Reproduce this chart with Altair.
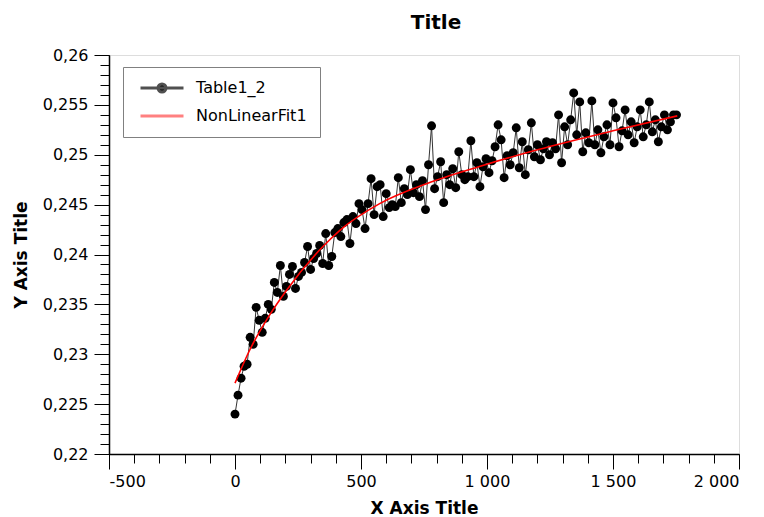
import altair as alt
import pandas as pd

# ---------------- data ----------------
x_data = [0, 12, 24, 36, 48, 60, 72, 84, 96, 108,
          120, 132, 144, 156, 168, 180, 192, 204, 216, 228,
          240, 252, 264, 276, 288, 300, 312, 324, 336, 348,
          360, 372, 384, 396, 408, 420, 432, 444, 456, 468,
          480, 492, 504, 516, 528, 540, 552, 564, 576, 588,
          600, 612, 624, 636, 648, 660, 672, 684, 696, 708,
          720, 732, 744, 756, 768, 780, 792, 804, 816, 828,
          840, 852, 864, 876, 888, 900, 912, 924, 936, 948,
          960, 972, 984, 996, 1008, 1020, 1032, 1044, 1056, 1068,
          1080, 1092, 1104, 1116, 1128, 1140, 1152, 1164, 1176, 1188,
          1200, 1212, 1224, 1236, 1248, 1260, 1272, 1284, 1296, 1308,
          1320, 1332, 1344, 1356, 1368, 1380, 1392, 1404, 1416, 1428,
          1440, 1452, 1464, 1476, 1488, 1500, 1512, 1524, 1536, 1548,
          1560, 1572, 1584, 1596, 1608, 1620, 1632, 1644, 1656, 1668,
          1680, 1692, 1704, 1716, 1728, 1740, 1752]

y_data = [0.2240, 0.2259, 0.2276, 0.2288, 0.2290, 0.2317, 0.2310, 0.2347, 0.2334, 0.2322,
          0.2336, 0.2350, 0.2345, 0.2372, 0.2362, 0.2389, 0.2358, 0.2368, 0.2380, 0.2388,
          0.2366, 0.2378, 0.2382, 0.2392, 0.2408, 0.2385, 0.2396, 0.2401, 0.2409, 0.2391,
          0.2421, 0.2389, 0.2398, 0.2422, 0.2426, 0.2418, 0.2432, 0.2435, 0.2411, 0.2438,
          0.2431, 0.2451, 0.2445, 0.2426, 0.2451, 0.2476, 0.2440, 0.2468, 0.2470, 0.2438,
          0.2461, 0.2447, 0.2450, 0.2448, 0.2477, 0.2452, 0.2466, 0.2460, 0.2485, 0.2462,
          0.2470, 0.2458, 0.2474, 0.2445, 0.2490, 0.2529, 0.2466, 0.2478, 0.2493, 0.2452,
          0.2480, 0.2470, 0.2486, 0.2467, 0.2503, 0.2480, 0.2475, 0.2478, 0.2514, 0.2478,
          0.2492, 0.2468, 0.2488, 0.2496, 0.2482, 0.2494, 0.2508, 0.2530, 0.2515, 0.2477,
          0.2499, 0.2490, 0.2502, 0.2527, 0.2487, 0.2513, 0.2480, 0.2505, 0.2532, 0.2498,
          0.2510, 0.2495, 0.2506, 0.2513, 0.2500, 0.2512, 0.2506, 0.2540, 0.2492, 0.2528,
          0.2510, 0.2535, 0.2562, 0.2520, 0.2553, 0.2503, 0.2522, 0.2512, 0.2554, 0.2510,
          0.2525, 0.2502, 0.2518, 0.2530, 0.2510, 0.2552, 0.2537, 0.2508, 0.2524, 0.2545,
          0.2520, 0.2533, 0.2512, 0.2528, 0.2545, 0.2518, 0.2530, 0.2553, 0.2523, 0.2535,
          0.2513, 0.2528, 0.2540, 0.2525, 0.2533, 0.2540, 0.2540]

fit_x = [0, 58, 139, 204, 349, 415, 574, 760, 967, 1200, 1500, 1755]
fit_y = [0.2271, 0.2304, 0.2340, 0.2364, 0.2408, 0.2424, 0.2451, 0.2471, 0.2488,
         0.2505, 0.2524, 0.2539]

series_names = ["Table1_2", "NonLinearFit1"]

x_major = [-500, 0, 500, 1000, 1500, 2000]
x_minor = [-500, -400, -300, -200, -100, 0, 100, 200, 300, 400, 500, 600, 700,
           800, 900, 1000, 1100, 1200, 1300, 1400, 1500, 1600, 1700, 1800, 1900, 2000]
y_major = [0.22, 0.225, 0.23, 0.235, 0.24, 0.245, 0.25, 0.255, 0.26]
y_minor = [0.220, 0.221, 0.222, 0.223, 0.224, 0.225, 0.226, 0.227, 0.228, 0.229,
           0.230, 0.231, 0.232, 0.233, 0.234, 0.235, 0.236, 0.237, 0.238, 0.239,
           0.240, 0.241, 0.242, 0.243, 0.244, 0.245, 0.246, 0.247, 0.248, 0.249,
           0.250, 0.251, 0.252, 0.253, 0.254, 0.255, 0.256, 0.257, 0.258, 0.259,
           0.260]

data = pd.DataFrame({"x": x_data, "y": y_data, "series": series_names[0]})
fit = pd.DataFrame({"x": fit_x, "y": fit_y, "series": series_names[1]})

FONT = "DejaVu Sans"

xscale = alt.Scale(domain=[-500, 2000], nice=False, zero=False)
yscale = alt.Scale(domain=[0.22, 0.26], nice=False, zero=False)

x_major_axis = alt.Axis(
    orient="bottom", values=x_major, grid=False,
    tickSize=15, tickColor="black", tickWidth=1,
    domainColor="black", domainWidth=1.5,
    labelFont=FONT, labelFontSize=16, labelColor="black", labelPadding=4,
    labelExpr="replace(replace(format(datum.value, ','), ',', ' '), '\u2212', '-')",
    title="X Axis Title", titleFont=FONT, titleFontSize=17, titleFontWeight="bold",
    titleColor="black", titlePadding=11,
)
x_minor_axis = alt.Axis(
    orient="bottom", values=x_minor, grid=False, tickSize=9, tickColor="black",
    tickWidth=1, labels=False, domain=False, title=None,
)
y_major_axis = alt.Axis(
    orient="left", values=y_major, grid=False,
    tickSize=15, tickColor="black", tickWidth=1,
    domainColor="black", domainWidth=1.5,
    labelFont=FONT, labelFontSize=16, labelColor="black", labelPadding=6,
    labelExpr="replace(format(datum.value, '.3~f'), '.', ',')",
    title="Y Axis Title", titleFont=FONT, titleFontSize=17, titleFontWeight="bold",
    titleColor="black", titlePadding=12,
)
y_minor_axis = alt.Axis(
    orient="left", values=y_minor, grid=False, tickSize=9, tickColor="black",
    tickWidth=1, labels=False, domain=False, title=None,
)

# legend symbols: a line with a dot for the data, a plain line for the fit
P1 = "M-4.3,0L4.3,0M-0.8,0A0.8,0.8 0 1,1 0.8,0A0.8,0.8 0 1,1 -0.8,0Z"
P2 = "M-4.3,0L4.3,0"

legend = alt.Legend(
    title=None, orient="none", legendX=14, legendY=12,
    fillColor="white", strokeColor="#808080",
    padding=13, symbolSize=100, symbolOffset=18, labelOffset=26,
    symbolStrokeWidth=3, symbolOpacity=1,
    labelFont=FONT, labelFontSize=16, labelColor="black", rowPadding=10,
)

line = alt.Chart(data).mark_line(strokeWidth=1, color="#333333").encode(
    x=alt.X("x:Q", scale=xscale, axis=x_major_axis),
    y=alt.Y("y:Q", scale=yscale, axis=y_major_axis),
)
pts = alt.Chart(data).mark_circle(size=80, color="black", opacity=1).encode(
    x=alt.X("x:Q", scale=xscale, axis=x_minor_axis),
    y=alt.Y("y:Q", scale=yscale, axis=y_minor_axis),
)
fitl = alt.Chart(fit).mark_line(strokeWidth=1.6, color="#ff0000",
                                interpolate="monotone").encode(
    x=alt.X("x:Q", scale=xscale, axis=None),
    y=alt.Y("y:Q", scale=yscale, axis=None),
)
# invisible layer that only carries the legend
leg = alt.Chart(fit).mark_point(size=100, opacity=0, filled=True, strokeWidth=3).encode(
    x=alt.X("x:Q", scale=xscale, axis=None),
    y=alt.Y("y:Q", scale=yscale, axis=None),
    fill=alt.Fill("series:N", scale=alt.Scale(domain=series_names,
                                               range=["black", "#ff8080"]), legend=legend),
    stroke=alt.Stroke("series:N", scale=alt.Scale(domain=series_names,
                                                   range=["#505050", "#ff8080"]), legend=legend),
    shape=alt.Shape("series:N", scale=alt.Scale(domain=series_names, range=[P1, P2]),
                    legend=legend),
)

chart = (
    alt.layer(line, pts, fitl, leg)
    .resolve_axis(x="independent", y="independent")
    .properties(
        width=630, height=399,
        title=alt.TitleParams(text="Title", font=FONT, fontSize=20, fontWeight="bold",
                              color="black", anchor="middle", dx=12, offset=14),
        autosize=alt.AutoSizeParams(type="none"),
        padding={"left": 109, "top": 55, "right": 25, "bottom": 63},
    )
    .configure_view(stroke=None)
    .configure_legend(strokeWidth=2, cornerRadius=3)
    .configure(background="white")
)

chart.save("out.html", embed_options={"renderer": "svg", "actions": False})
